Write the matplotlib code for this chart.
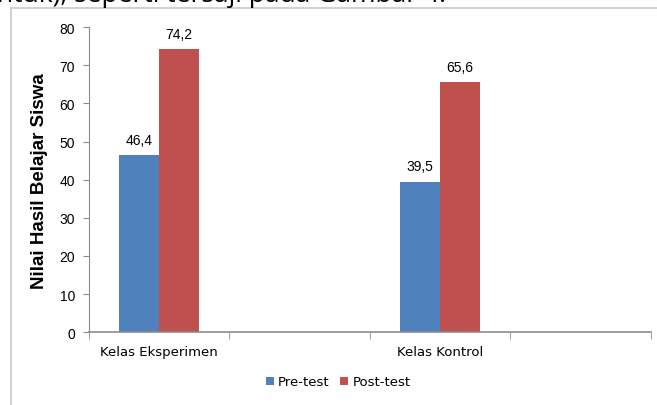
import matplotlib.pyplot as plt
import numpy as np

# nilai rata-rata pre-test / post-test per kelas
kelas = ["Kelas Eksperimen", "", "Kelas Kontrol", ""]
pre_test = [46.4, np.nan, 39.5, np.nan]
post_test = [74.2, np.nan, 65.6, np.nan]
y_ticks = [0, 10, 20, 30, 40, 50, 60, 70, 80]

biru = "#4F81BD"
merah = "#C0504D"
abu = "#8c8c8c"

fig = plt.figure(figsize=(6.57, 4.06), dpi=100)
ax = fig.add_axes([0.1355, 0.179, 0.855, 0.752])

x = np.arange(len(kelas))
w = 0.285
b1 = ax.bar(x - w / 2, pre_test, w, color=biru, label="Pre-test")
b2 = ax.bar(x + w / 2, post_test, w, color=merah, label="Post-test")

for bars, vals in [(b1, pre_test), (b2, post_test)]:
    for rect, v in zip(bars, vals):
        if np.isnan(v):
            continue
        ax.annotate(f"{v:.1f}".replace(".", ","),
                    (rect.get_x() + rect.get_width() / 2, v),
                    xytext=(0, 6), textcoords="offset points",
                    ha="center", va="bottom", fontsize=10,
                    family="Liberation Sans")

ax.set_xlim(-0.5, len(kelas) - 0.5)
ax.set_ylim(0, 80)
ax.set_yticks(y_ticks)
ax.set_yticklabels([str(t) for t in y_ticks], family="Liberation Sans", fontsize=10)
ax.tick_params(axis="y", direction="out", length=4, color=abu, pad=6)
ax.set_xticks(x)
ax.set_xticklabels(kelas, fontsize=9.5, family="Liberation Sans Narrow")
ax.set_xticks(np.arange(len(kelas) + 1) - 0.5, minor=True)
ax.tick_params(axis="x", which="major", length=0, pad=9)
ax.tick_params(axis="x", which="minor", direction="out", length=5, color=abu)

for s in ["top", "right"]:
    ax.spines[s].set_visible(False)
ax.spines["left"].set_color(abu)
ax.spines["bottom"].set_color(abu)
ax.spines["bottom"].set_linewidth(1.2)

ax.set_ylabel("Nilai Hasil Belajar Siswa", fontsize=13.5, fontweight="bold",
              family="Liberation Sans", labelpad=8)

leg = fig.legend(handles=[b1, b2], loc="center", bbox_to_anchor=(0.515, 0.057),
                 ncol=2, frameon=False, handlelength=0.6,
                 handleheight=0.6, handletextpad=0.3, columnspacing=0.8,
                 prop={"family": "Liberation Sans Narrow", "size": 9.5})

# bingkai area grafik
fig.add_artist(plt.Line2D([11 / 657, 1], [1 - 9 / 406, 1 - 9 / 406],
                          transform=fig.transFigure, color="#c8c8c8", lw=1.2))
fig.add_artist(plt.Line2D([11 / 657, 11 / 657], [0, 1 - 9 / 406],
                          transform=fig.transFigure, color="#c8c8c8", lw=1.2))

# potongan baris teks di atas grafik (hanya bagian bawahnya yang terlihat)
fig.text(-0.005, 1 - 1.5 / 406, "ntuk), seperti tersaji pada Gambar 4.",
         fontsize=19, va="baseline", ha="left", family="Open Sans")

fig.savefig("out.png", dpi=100)
